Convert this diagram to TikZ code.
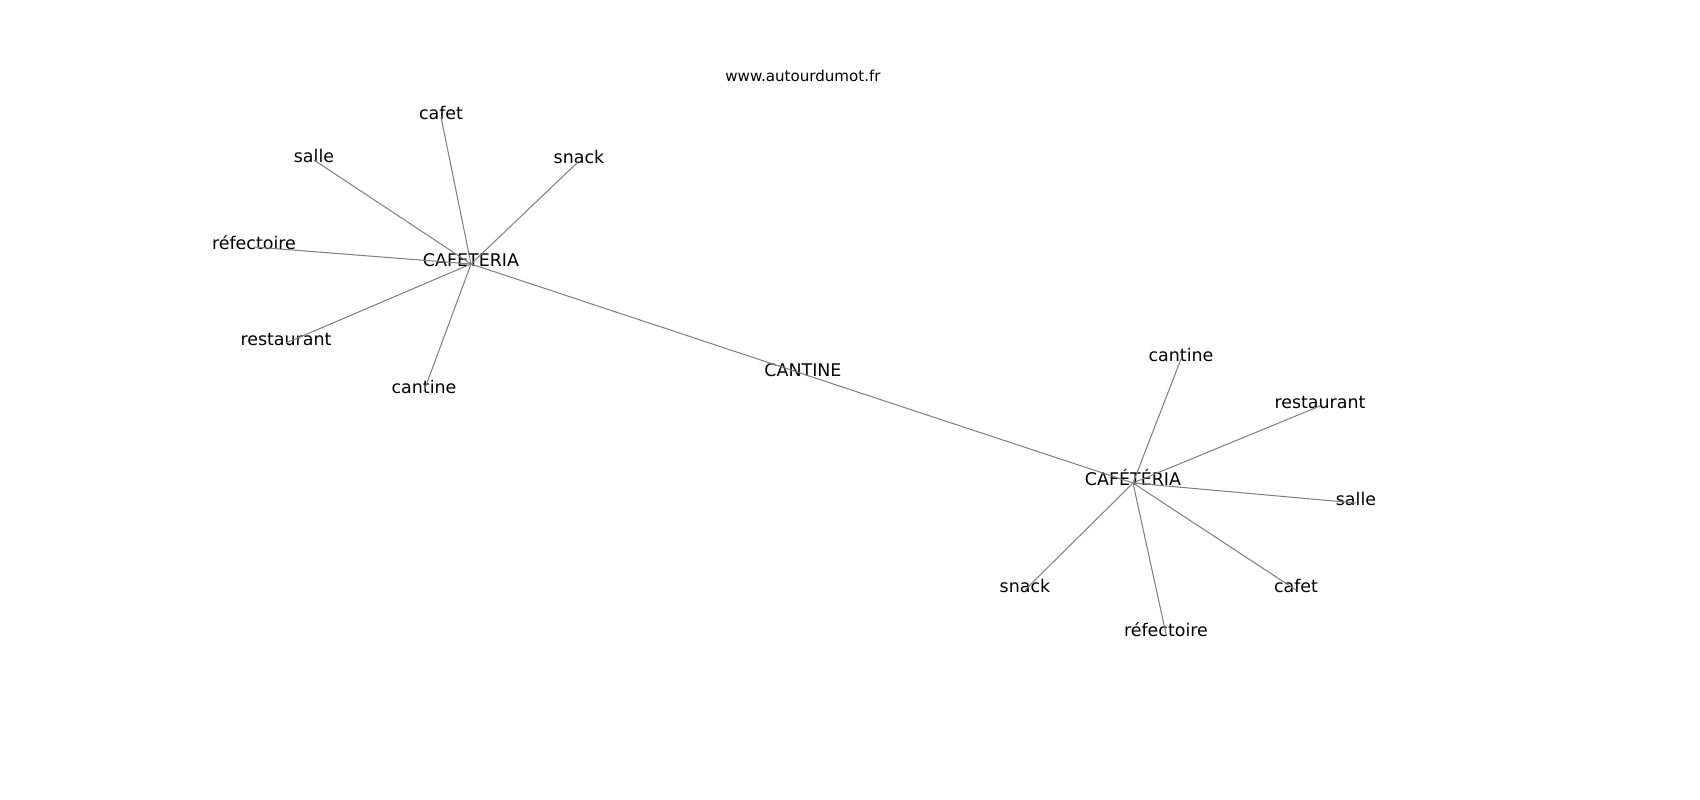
\documentclass[tikz,border=0pt]{standalone}
\usepackage{fontspec}
\setmainfont{DejaVu Sans}
\usepackage{tikz}
\usetikzlibrary{positioning}

\begin{document}
\begin{tikzpicture}[x=0.01in, y=-0.01in,
    word/.style={inner sep=0pt, font=\fontsize{12.6}{14}\selectfont, text height=0.75em, text depth=0.45em},
    link/.style={draw=gray, line width=0.75pt}]
  \useasboundingbox (0,0) rectangle (1700,800);

  \node[font=\fontsize{10.9}{13}\selectfont] (site) at (803,76) {www.autourdumot.fr};

  \node[word] (cantine) at (803,374) {CANTINE};
  \node[word] (cafeteria) at (471,264) {CAFETERIA};
  \node[word] (cafeteriaacc) at (1133,483) {CAFÉTÉRIA};

  \node[word] (lcafet) at (441,117) {cafet};
  \node[word] (lsalle) at (314,160) {salle};
  \node[word] (lsnack) at (579,161) {snack};
  \node[word] (lrefectoire) at (254,247) {réfectoire};
  \node[word] (lrestaurant) at (286,343) {restaurant};
  \node[word] (lcantine) at (424,391) {cantine};

  \node[word] (rcantine) at (1181,359) {cantine};
  \node[word] (rrestaurant) at (1320,406) {restaurant};
  \node[word] (rsalle) at (1356,503) {salle};
  \node[word] (rcafet) at (1296,590) {cafet};
  \node[word] (rsnack) at (1025,590) {snack};
  \node[word] (rrefectoire) at (1166,634) {réfectoire};

  \draw[link] (cafeteria.center) -- (cantine.center) -- (cafeteriaacc.center);
  \foreach \w in {lcafet, lsalle, lsnack, lrefectoire, lrestaurant, lcantine}
    \draw[link] (cafeteria.center) -- (\w.center);
  \foreach \w in {rcantine, rrestaurant, rsalle, rcafet, rsnack, rrefectoire}
    \draw[link] (cafeteriaacc.center) -- (\w.center);
\end{tikzpicture}
\end{document}
